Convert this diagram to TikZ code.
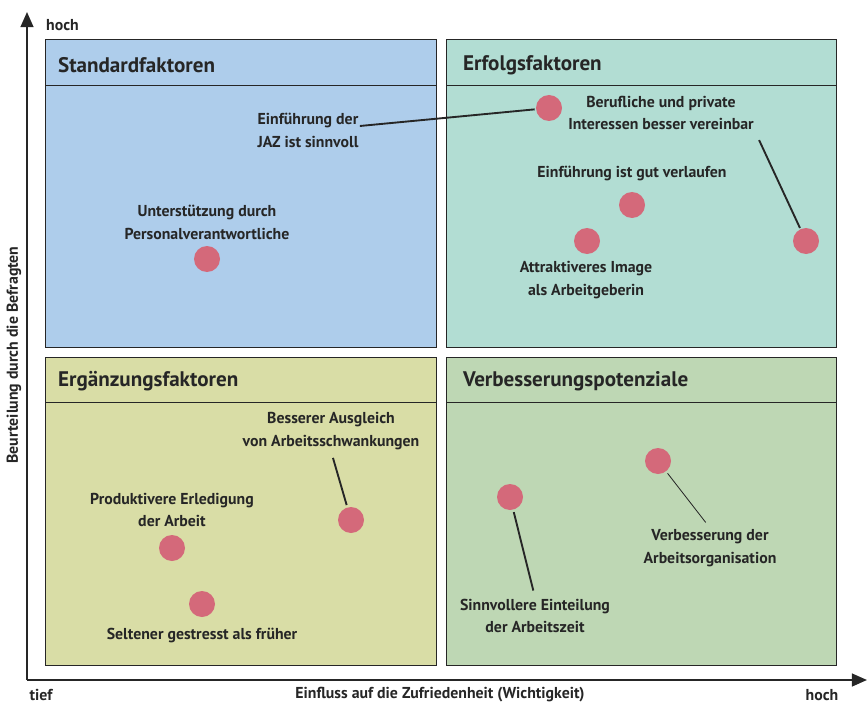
\documentclass[tikz,border=0pt]{standalone}
\usepackage{fontspec}
\setmainfont{PT Sans}
\usetikzlibrary{arrows.meta, positioning}

\definecolor{standardblue}{HTML}{AECDEB}
\definecolor{erfolgmint}{HTML}{B2DDD3}
\definecolor{ergaenzgelb}{HTML}{D9DDA6}
\definecolor{verbessgruen}{HTML}{BED7B4}
\definecolor{punktrot}{HTML}{D4697A}
\definecolor{schrift}{HTML}{262626}

\tikzset{
  feld/.style = {draw=schrift, line width=0.8pt},
  titel/.style = {anchor=west, text=schrift, font=\bfseries\fontsize{18}{21}\selectfont},
  punkt/.style = {circle, fill=punktrot, minimum size=0.78cm, inner sep=0pt},
  beschr/.style = {align=center, text=schrift, inner sep=1pt, font=\bfseries\fontsize{13.5}{19.5}\selectfont},
  achse/.style = {text=schrift, font=\bfseries\fontsize{13.5}{15}\selectfont},
}

\begin{document}
\begin{tikzpicture} [x=0.03cm, y=-0.03cm]
    \useasboundingbox (0,0) rectangle (867,704);

    % Felder
    \draw [feld, fill=standardblue] (45,39) rectangle (436,347);
    \draw [feld] (45,85) -- (436,85);
    \draw [feld, fill=erfolgmint] (446,39) rectangle (836,347);
    \draw [feld] (446,85) -- (836,85);
    \draw [feld, fill=ergaenzgelb] (45,357) rectangle (436,665);
    \draw [feld] (45,402) -- (436,402);
    \draw [feld, fill=verbessgruen] (446,357) rectangle (836,665);
    \draw [feld] (446,402) -- (836,402);

    \node (t1) [titel] at (54,65) {Standardfaktoren};
    \node (t2) [titel] at (459,65) {Erfolgsfaktoren};
    \node (t3) [titel] at (54,381) {Ergänzungsfaktoren};
    \node (t4) [titel] at (459,381) {Verbesserungspotenziale};

    % Achsen
    \coordinate (ursprung) at (27,680);
    \coordinate (yspitze) at (27,12);
    \coordinate (xspitze) at (867,680);
    \draw [line width=1.8pt, draw=schrift, -{Triangle[length=13pt, width=11pt]}] (ursprung) -- (yspitze);
    \draw [line width=1.8pt, draw=schrift, -{Triangle[length=13pt, width=11pt]}] (ursprung) -- (xspitze);

    \node (yhoch) [achse, anchor=west] at (42,25) {hoch};
    \node (xtief) [achse] at (41,695) {tief};
    \node (xtitel) [achse] at (440,695) {Einfluss auf die Zufriedenheit (Wichtigkeit)};
    \node (xhoch) [achse] at (822,695) {hoch};
    \node (ytitel) [achse, rotate=90] at (14,355) {Beurteilung durch die Befragten};

    % Standardfaktoren
    \node (d-unterst) [punkt] at (207,259) {};
    \node (unterst) [beschr] at (207,222) {Unterstützung durch\\Personalverantwortliche};
    \node (jaz) [beschr] at (308,130) {Einführung der\\JAZ ist sinnvoll};

    % Erfolgsfaktoren
    \node (d-jaz) [punkt] at (549,108) {};
    \node (d-beruf) [punkt] at (806,241) {};
    \node (beruf) [beschr] at (661,113) {Berufliche und private\\Interessen besser vereinbar};
    \node (d-gut) [punkt] at (632,205) {};
    \node (gut) [beschr] at (632,173) {Einführung ist gut verlaufen};
    \node (d-image) [punkt] at (587,241) {};
    \node (image) [beschr] at (586,280) {Attraktiveres Image\\als Arbeitgeberin};

    % Ergaenzungsfaktoren
    \node (d-ausgl) [punkt] at (351,520) {};
    \node (ausgl) [beschr] at (331,431) {Besserer Ausgleich\\von Arbeitsschwankungen};
    \node (d-prod) [punkt] at (172,548) {};
    \node (prod) [beschr] at (172,510) {Produktivere Erledigung\\der Arbeit};
    \node (d-stress) [punkt] at (202,604) {};
    \node (stress) [beschr] at (202,635) {Seltener gestresst als früher};

    % Verbesserungspotenziale
    \node (d-zeit) [punkt] at (510,497) {};
    \node (zeit) [beschr] at (535,616) {Sinnvollere Einteilung\\der Arbeitszeit};
    \node (d-org) [punkt] at (658,461) {};
    \node (org) [beschr] at (710,548) {Verbesserung der\\Arbeitsorganisation};

    % Verbindungen
    \path [draw=schrift, line width=1.6pt] (jaz.east) ++(0,-4) edge [shorten >=1pt] (d-jaz);
    \path [draw=schrift, line width=1.6pt] (beruf.south east) edge [shorten <=8pt, shorten >=1pt] (d-beruf);
    \path [draw=schrift, line width=1.6pt] (ausgl.south) edge [shorten <=6pt, shorten >=2pt] (d-ausgl);
    \path [draw=schrift, line width=1.6pt] (zeit.north) edge [shorten <=6pt, shorten >=2pt] (d-zeit);
    \path [draw=schrift, line width=0.7pt] (org.north) edge [shorten <=6pt, shorten >=2pt] (d-org);
\end{tikzpicture}
\end{document}
